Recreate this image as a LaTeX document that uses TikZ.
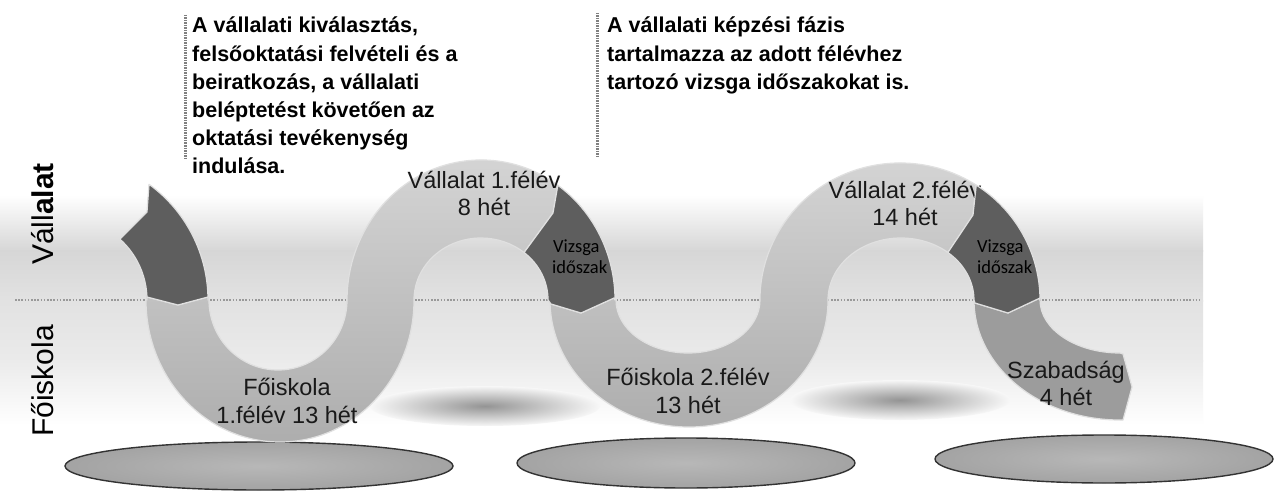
\documentclass[tikz,border=0pt]{standalone}
\usepackage{fontspec}
\setmainfont{Liberation Sans}
\newfontfamily\calibfont{Carlito}
\definecolor{bgdark}{gray}{0.84}
\definecolor{bgmid}{gray}{0.885}
\definecolor{bglow}{gray}{0.92}
\definecolor{lighttop}{gray}{0.84}
\definecolor{lightbot}{gray}{0.68}
\definecolor{darkc}{gray}{0.37}
\definecolor{freec}{gray}{0.61}
\definecolor{edgec}{gray}{0.88}
\definecolor{dotc}{gray}{0.6}
\definecolor{vdotc}{gray}{0.5}
\definecolor{shadowc}{gray}{0.58}
\definecolor{shadowbg}{gray}{0.97}
\definecolor{discin}{gray}{0.72}
\definecolor{discout}{gray}{0.64}
\definecolor{discedge}{gray}{0.2}
\tikzset{
  bandlbl/.style={font=\fontsize{23.5}{28}\selectfont, anchor=base, inner sep=0pt, text=black!90},
  vizlbl/.style={font=\calibfont\fontsize{18.5}{21}\selectfont, anchor=base west, inner sep=0pt, text=black},
  toplbl/.style={font=\bfseries\fontsize{21.5}{28}\selectfont, anchor=base west, inner sep=0pt, text=black},
  sidelbl/.style={font=\fontsize{30}{36}\selectfont, rotate=90, anchor=base, inner sep=0pt, text=black},
  lightpiece/.style={draw=edgec, line width=1.2pt, line join=round, top color=lighttop, bottom color=lightbot},
  darkpiece/.style={draw=edgec, line width=1.2pt, line join=round, fill=darkc},
  freepiece/.style={draw=edgec, line width=1.2pt, line join=round, fill=freec},
  dotline/.style={draw=dotc, line width=1.6pt, dash pattern=on 1.6pt off 1.6pt},
  vdotline/.style={draw=vdotc, line width=3pt, dash pattern=on 1.5pt off 1pt},
  discstyle/.style={draw=discedge, line width=1.4pt, inner color=discin, outer color=discout},
  shadowstyle/.style={inner color=shadowc, outer color=shadowbg}
}
\begin{document}
\begin{tikzpicture}[x=1pt,y=-1pt]
\useasboundingbox (0,0) rectangle (1280,492);
\fill[white] (0,0) rectangle (1280,492);
% background gradient band
\shade[top color=white, bottom color=bgdark] (0,195) rectangle (1203,251);
\shade[top color=bgdark, bottom color=bgmid] (0,250) rectangle (1203,301);
\shade[top color=bgmid, bottom color=bglow] (0,300) rectangle (1203,361);
\shade[top color=bglow, bottom color=white] (0,360) rectangle (1203,425);
% dividing dotted line
\coordinate (dl) at (15,300);
\coordinate (dr) at (1200,300);
\draw[dotline] (dl) -- (dr);
% shadows
\shade[shadowstyle] (485,406) ellipse[x radius=115, y radius=20];
\shade[shadowstyle] (900,400) ellipse[x radius=110, y radius=20];
% discs
\shade[discstyle] (259,466) ellipse[x radius=194, y radius=24];
\shade[discstyle] (686,463) ellipse[x radius=169, y radius=25];
\shade[discstyle] (1104,459) ellipse[x radius=169, y radius=24];
% light piece 1 (Foiskola 1 + Vallalat 1)
\path[lightpiece] (146,300) arc[start angle=180,end angle=0,x radius=134,y radius=142]
  -- (414,300) arc[start angle=180,end angle=310,x radius=67,y radius=62]
  -- (553,213) -- (557.9,185.3) arc[start angle=305,end angle=180,x radius=134,y radius=140]
  -- (347,300) arc[start angle=0,end angle=180,x radius=69,y radius=70]
  -- (208,297) -- (178,305) -- (147,297) -- cycle;
% light piece 2 (Foiskola 2 + Vallalat 2)
\path[lightpiece] (551,304) -- (550,300) arc[start angle=180,end angle=0,x radius=139,y radius=127]
  -- (828,300) arc[start angle=180,end angle=310,x radius=73,y radius=62]
  -- (973,215) -- (976.2,185.1) arc[start angle=303,end angle=180,x radius=140,y radius=137]
  -- (760,300) arc[start angle=0,end angle=180,x radius=72,y radius=53]
  -- (614,298) -- (581,313) -- cycle;
% Szabadsag piece
\path[freepiece] (975,303) -- (1008,313) -- (1040,298)
  -- (1040,300) arc[start angle=180,end angle=90,x radius=80,y radius=53]
  -- (1123,354) -- (1132,387) -- (1123,420)
  -- (1120,420) arc[start angle=90,end angle=180,x radius=146,y radius=120] -- cycle;
% band labels
\node[bandlbl] (f1a) at (287,395) {Főiskola};
\node[bandlbl] (f1b) at (287,423) {1.félév 13 hét};
\node[bandlbl] (v1a) at (484,188) {Vállalat 1.félév};
\node[bandlbl] (v1b) at (484,215) {8 hét};
\node[bandlbl] (f2a) at (688,385) {Főiskola 2.félév};
\node[bandlbl] (f2b) at (688,413) {13 hét};
\node[bandlbl] (v2a) at (905,198) {Vállalat 2.félév};
\node[bandlbl] (v2b) at (905,225) {14 hét};
\node[bandlbl] (sza) at (1066,378) {Szabadság};
\node[bandlbl] (szb) at (1066,405) {4 hét};
% dark pieces
\path[darkpiece] (147,297) -- (178,305) -- (208,297)
  -- (208,300) arc[start angle=360,end angle=306,radius=143]
  -- (147,212) -- (119.9,239.1) arc[start angle=312,end angle=360,radius=82] -- cycle;
\path[darkpiece] (551,304) -- (581,313) -- (614,298)
  -- (615,300) arc[start angle=360,end angle=305,x radius=134,y radius=140]
  -- (553,213) -- (524.1,252.5) arc[start angle=310,end angle=360,x radius=67,y radius=62] -- cycle;
\path[darkpiece] (975,303) -- (1008,313) -- (1040,298)
  -- (1040,300) arc[start angle=360,end angle=303,x radius=140,y radius=137]
  -- (973,215) -- (947.9,252.5) arc[start angle=310,end angle=360,x radius=73,y radius=62] -- cycle;
% Vizsga labels
\node[vizlbl] (z1a) at (553,252) {Vizsga};
\node[vizlbl] (z1b) at (552,273) {időszak};
\node[vizlbl] (z2a) at (977,252) {Vizsga};
\node[vizlbl] (z2b) at (977,273) {időszak};
% side labels
\node[sidelbl] (sv) at (53,214) {Váll\textbf{alat}};
\node[sidelbl] (sf) at (53,381) {Főiskola};
% top text blocks
\coordinate (t1top) at (185,15);
\coordinate (t1bot) at (185,158);
\draw[vdotline] (t1top) -- (t1bot);
\node[toplbl] (ta1) at (192,33) {A vállalati kiválasztás,};
\node[toplbl] (ta2) at (192,61.1) {felsőoktatási felvételi és a};
\node[toplbl] (ta3) at (192,89.2) {beiratkozás, a vállalati};
\node[toplbl] (ta4) at (192,117.3) {beléptetést követően az};
\node[toplbl] (ta5) at (192,145.4) {oktatási tevékenység};
\node[toplbl] (ta6) at (192,173.5) {indulása.};
\coordinate (t2top) at (597,13);
\coordinate (t2bot) at (597,157);
\draw[vdotline] (t2top) -- (t2bot);
\node[toplbl] (tb1) at (607,33) {A vállalati képzési fázis};
\node[toplbl] (tb2) at (607,61.1) {tartalmazza az adott félévhez};
\node[toplbl] (tb3) at (607,89.2) {tartozó vizsga időszakokat is.};
\end{tikzpicture}
\end{document}
